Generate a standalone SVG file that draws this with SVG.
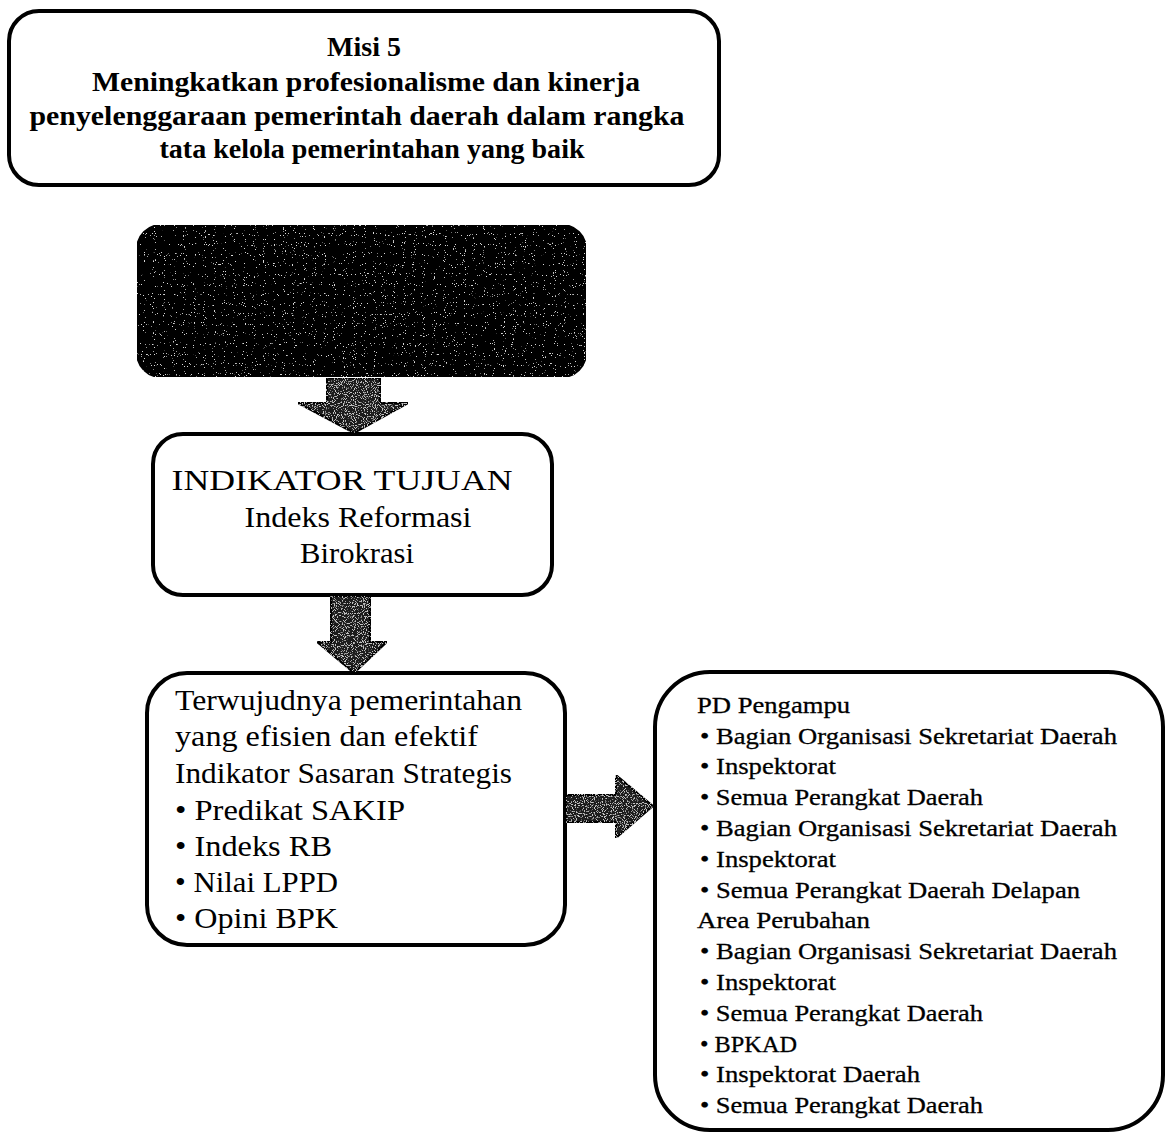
<svg xmlns="http://www.w3.org/2000/svg" width="1166" height="1134" viewBox="0 0 1166 1134">
<style>
.box{fill:#fff;stroke:#000;stroke-width:4}
.t1{font-family:"Liberation Serif",serif;font-weight:bold;font-size:28px;fill:#000}
.t2{font-family:"Liberation Serif",serif;font-size:30px;fill:#000}
.t3{font-family:"Liberation Serif",serif;font-size:24px;fill:#000;stroke:#000;stroke-width:0.3}
.arr{fill:#1a1a1a;stroke:#000;stroke-width:2}
</style>
<defs>
<filter id="speck" x="0" y="0" width="100%" height="100%">
<feTurbulence type="fractalNoise" baseFrequency="0.9" numOctaves="1" seed="3" result="n"/>
<feColorMatrix in="n" type="matrix" values="0 0 0 0 0.7  0 0 0 0 0.7  0 0 0 0 0.7  22 0 0 0 -15" result="s"/>
<feComposite in="s" in2="SourceGraphic" operator="in" result="sp"/>
<feMerge><feMergeNode in="SourceGraphic"/><feMergeNode in="sp"/></feMerge>
</filter>
<filter id="speck2" x="0" y="0" width="100%" height="100%">
<feTurbulence type="fractalNoise" baseFrequency="0.9" numOctaves="1" seed="7" result="n"/>
<feColorMatrix in="n" type="matrix" values="0 0 0 0 0.55  0 0 0 0 0.55  0 0 0 0 0.55  12 0 0 0 -6.6" result="s"/>
<feComposite in="s" in2="SourceGraphic" operator="in" result="sp"/>
<feMerge><feMergeNode in="SourceGraphic"/><feMergeNode in="sp"/></feMerge>
</filter>
</defs>
<g id="misi">
<rect class="box" x="9" y="11" width="710" height="174" rx="30"/>
<text class="t1" x="364" y="56" text-anchor="middle">Misi 5</text>
<text class="t1" x="366" y="91" text-anchor="middle" textLength="548" lengthAdjust="spacingAndGlyphs">Meningkatkan profesionalisme  dan kinerja</text>
<text class="t1" x="357" y="125" text-anchor="middle" textLength="655" lengthAdjust="spacingAndGlyphs">penyelenggaraan pemerintah daerah dalam rangka</text>
<text class="t1" x="372" y="158" text-anchor="middle" textLength="425" lengthAdjust="spacingAndGlyphs">tata kelola pemerintahan yang baik</text>
</g>
<g id="tujuan">
<rect x="137" y="225" width="449" height="152" rx="24" fill="#030303" stroke="#000" stroke-width="2" filter="url(#speck)"/>
</g>
<g id="indikator">
<rect class="box" x="153" y="434" width="399" height="161" rx="30"/>
<text class="t2" x="342" y="490" text-anchor="middle" textLength="341" lengthAdjust="spacingAndGlyphs">INDIKATOR TUJUAN</text>
<text class="t2" x="358" y="527" text-anchor="middle" textLength="227" lengthAdjust="spacingAndGlyphs">Indeks  Reformasi</text>
<text class="t2" x="357" y="563" text-anchor="middle" textLength="114" lengthAdjust="spacingAndGlyphs">Birokrasi</text>
</g>
<g id="sasaran">
<rect class="box" x="147" y="673" width="418" height="272" rx="40"/>
<text class="t2" x="175" y="710" textLength="347" lengthAdjust="spacingAndGlyphs">Terwujudnya pemerintahan</text>
<text class="t2" x="175" y="746" textLength="303" lengthAdjust="spacingAndGlyphs">yang efisien  dan efektif</text>
<text class="t2" x="175" y="783" textLength="337" lengthAdjust="spacingAndGlyphs">Indikator Sasaran Strategis</text>
<text class="t2" x="175" y="820" textLength="230" lengthAdjust="spacingAndGlyphs">• Predikat SAKIP</text>
<text class="t2" x="175" y="856" textLength="157" lengthAdjust="spacingAndGlyphs">• Indeks RB</text>
<text class="t2" x="175" y="892" textLength="163" lengthAdjust="spacingAndGlyphs">• Nilai LPPD</text>
<text class="t2" x="175" y="928" textLength="163" lengthAdjust="spacingAndGlyphs">• Opini BPK</text>
</g>
<g id="pengampu">
<rect class="box" x="655" y="672" width="508" height="458" rx="55"/>
<text class="t3" x="697" y="713" textLength="153" lengthAdjust="spacingAndGlyphs">PD Pengampu</text>
<text class="t3" x="700" y="744" textLength="417" lengthAdjust="spacingAndGlyphs">• Bagian Organisasi Sekretariat Daerah</text>
<text class="t3" x="700" y="774" textLength="136" lengthAdjust="spacingAndGlyphs">• Inspektorat</text>
<text class="t3" x="700" y="805" textLength="283" lengthAdjust="spacingAndGlyphs">• Semua Perangkat Daerah</text>
<text class="t3" x="700" y="836" textLength="417" lengthAdjust="spacingAndGlyphs">• Bagian Organisasi Sekretariat Daerah</text>
<text class="t3" x="700" y="867" textLength="136" lengthAdjust="spacingAndGlyphs">• Inspektorat</text>
<text class="t3" x="700" y="898" textLength="380" lengthAdjust="spacingAndGlyphs">• Semua Perangkat Daerah Delapan</text>
<text class="t3" x="697" y="928" textLength="173" lengthAdjust="spacingAndGlyphs">Area Perubahan</text>
<text class="t3" x="700" y="959" textLength="417" lengthAdjust="spacingAndGlyphs">• Bagian Organisasi Sekretariat Daerah</text>
<text class="t3" x="700" y="990" textLength="136" lengthAdjust="spacingAndGlyphs">• Inspektorat</text>
<text class="t3" x="700" y="1021" textLength="283" lengthAdjust="spacingAndGlyphs">• Semua Perangkat Daerah</text>
<text class="t3" x="700" y="1052" textLength="97" lengthAdjust="spacingAndGlyphs">• BPKAD</text>
<text class="t3" x="700" y="1082" textLength="220" lengthAdjust="spacingAndGlyphs">• Inspektorat Daerah</text>
<text class="t3" x="700" y="1113" textLength="283" lengthAdjust="spacingAndGlyphs">• Semua Perangkat Daerah</text>
</g>
<g id="connectors">
<polygon class="arr" filter="url(#speck2)" points="327,378 380,378 380,403 408,403 354,433 298,403 327,403"/>
<polygon class="arr" filter="url(#speck2)" points="331,596 370,596 370,642 387,642 354,673 317,642 331,642"/>
<polygon class="arr" filter="url(#speck2)" points="566,795 616,795 616,775 653,806 616,838 616,822 566,822"/>
</g>
</svg>
